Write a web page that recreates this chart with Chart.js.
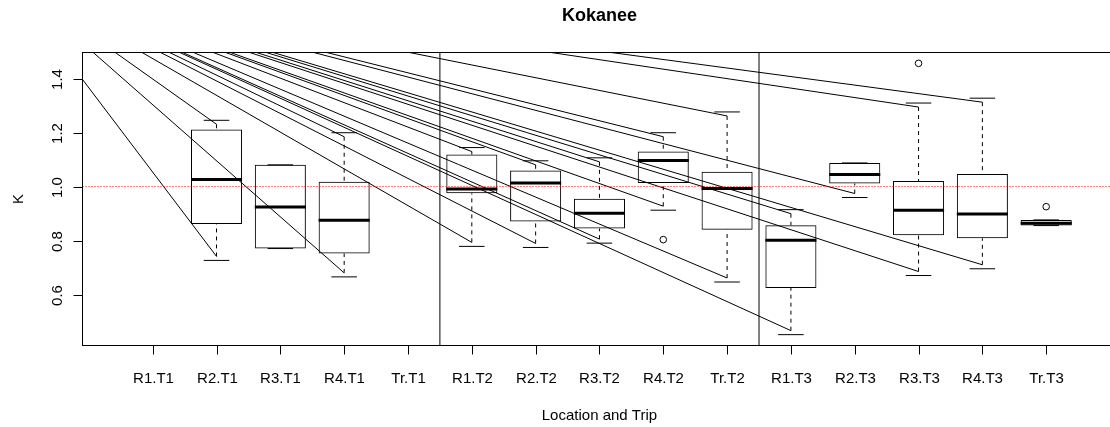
<!DOCTYPE html>
<html>
<head>
<meta charset="utf-8">
<title>Kokanee</title>
<script src="https://cdn.jsdelivr.net/npm/chart.js@4/dist/chart.umd.min.js"></script>
<style>
  html, body { margin: 0; padding: 0; background: #ffffff; overflow: hidden; }
  body { width: 1110px; height: 427px; }
  #wrap { width: 1117px; height: 427px; }
</style>
</head>
<body>
<div id="wrap"><canvas id="chart" width="1117" height="427"></canvas></div>
<script>
// Condition factor K of kokanee by location (R1-R4, Tr) and trip (T1-T3)
const categories = ['R1.T1', 'R2.T1', 'R3.T1', 'R4.T1', 'Tr.T1',
                    'R1.T2', 'R2.T2', 'R3.T2', 'R4.T2', 'Tr.T2',
                    'R1.T3', 'R2.T3', 'R3.T3', 'R4.T3', 'Tr.T3'];

// five-number summaries (null = no fish sampled)
const whiskerLow  = [null, 0.727, 0.771, 0.666, null, 0.779, 0.775, 0.791, 0.913, 0.647, 0.452, 0.960, 0.671, 0.696, 0.856];
const hingeLow    = [null, 0.862, 0.771, 0.753, null, 0.976, 0.871, 0.845, 1.014, 0.841, 0.625, 1.012, 0.820, 0.809, 0.856];
const medians     = [null, 1.027, 0.925, 0.876, null, 0.992, 1.014, 0.902, 1.097, 0.993, 0.802, 1.045, 0.913, 0.899, 0.865];
const hingeHigh   = [null, 1.212, 1.081, 1.018, null, 1.119, 1.060, 0.955, 1.130, 1.055, 0.857, 1.088, 1.021, 1.047, 0.877];
const whiskerHigh = [null, 1.246, 1.081, 1.200, null, 1.145, 1.096, 1.107, 1.200, 1.277, 0.915, 1.088, 1.310, 1.328, 0.877];

// outlying fish
const outlierCategory = [8, 12, 14];
const outlierValues   = [0.804, 1.457, 0.926];

// axis ticks
const yTickValues = [0.6, 0.8, 1.0, 1.2, 1.4];
const yTickLabels = ['0.6', '0.8', '1.0', '1.2', '1.4'];

// reference level K = 1 and trip dividers (between category positions)
const referenceLevel = 1.0;
const tripDividers = [4.5, 9.5];

// common anchor of the whisker leader lines (x in category units, y in K)
const rayOrigin = { x: -2.39, y: 1.80 };

const chartTitle = 'Kokanee';
const xTitle = 'Location and Trip';
const yTitle = 'K';

// axis limits: data range padded by 4% on each side
const nCat = categories.length;
const allValues = [...whiskerLow, ...whiskerHigh, ...outlierValues].filter(v => v != null);
const dataMin = Math.min(...allValues);
const dataMax = Math.max(...allValues);
const ySpan = dataMax - dataMin;
const yLimits = [dataMin - 0.04 * ySpan, dataMax + 0.04 * ySpan];
const xLimits = [-0.5 - 0.04 * nCat, nCat - 0.5 + 0.04 * nCat];

const boxData = [];
categories.forEach((c, i) => {
  if (hingeLow[i] != null) boxData.push({ x: i, y: [hingeLow[i], hingeHigh[i]] });
});
const outlierData = outlierCategory.map((ci, k) => ({ x: ci, y: outlierValues[k] }));

const FONT = "'Liberation Sans', Arial, Helvetica, sans-serif";
const RAY_GAP = 4;

const boxplotDecor = {
  id: 'boxplotDecor',
  afterDatasetsDraw(chart) {
    const ctx = chart.ctx;
    const area = chart.chartArea;
    const xs = chart.scales.x, ys = chart.scales.y;
    const bars = chart.getDatasetMeta(0).data;

    ctx.save();
    ctx.beginPath();
    ctx.rect(area.left, area.top, area.right - area.left, area.bottom - area.top);
    ctx.clip();

    // medians, whiskers, staples and leader lines
    const ox = xs.getPixelForValue(rayOrigin.x);
    const oy = ys.getPixelForValue(rayOrigin.y);
    boxData.forEach((d, k) => {
      const i = d.x;
      const bar = bars[k];
      const cx = bar.x;
      const w = bar.width;

      const ends = [
        { end: whiskerLow[i], hinge: hingeLow[i], lower: true },
        { end: whiskerHigh[i], hinge: hingeHigh[i], lower: false }
      ];
      ends.forEach(e => {
        const pe = ys.getPixelForValue(e.end);
        const ph = ys.getPixelForValue(e.hinge);
        ctx.strokeStyle = '#000';
        ctx.lineWidth = 1;
        if (e.end !== e.hinge) {
          const startY = e.lower ? pe - RAY_GAP : pe + RAY_GAP;
          // dashed whisker towards the hinge
          ctx.setLineDash([4, 4]);
          ctx.beginPath();
          ctx.moveTo(cx, startY);
          ctx.lineTo(cx, ph);
          ctx.stroke();
          ctx.setLineDash([]);
          // leader line from the common anchor
          ctx.beginPath();
          ctx.moveTo(ox, oy);
          ctx.lineTo(cx, startY);
          ctx.stroke();
        }
        // staple
        ctx.setLineDash([]);
        ctx.beginPath();
        ctx.moveTo(cx - w / 4, pe);
        ctx.lineTo(cx + w / 4, pe);
        ctx.stroke();
      });

      // median
      const pm = ys.getPixelForValue(medians[i]);
      ctx.lineWidth = 3;
      ctx.beginPath();
      ctx.moveTo(cx - w / 2, pm);
      ctx.lineTo(cx + w / 2, pm);
      ctx.stroke();
    });

    // trip dividers
    ctx.setLineDash([]);
    ctx.lineWidth = 1;
    ctx.strokeStyle = '#000';
    tripDividers.forEach(v => {
      const px = xs.getPixelForValue(v);
      ctx.beginPath();
      ctx.moveTo(px, area.top);
      ctx.lineTo(px, area.bottom);
      ctx.stroke();
    });

    // reference level, snapped to the pixel row for a crisp dotted line
    const pr = Math.round(ys.getPixelForValue(referenceLevel)) - 0.5;
    ctx.strokeStyle = '#ff0000';
    ctx.setLineDash([1, 2]);
    ctx.beginPath();
    ctx.moveTo(area.left, pr);
    ctx.lineTo(area.right, pr);
    ctx.stroke();
    ctx.setLineDash([]);
    ctx.restore();
  },
  afterDraw(chart) {
    const ctx = chart.ctx;
    const area = chart.chartArea;
    const xs = chart.scales.x, ys = chart.scales.y;
    ctx.save();
    ctx.strokeStyle = '#000';
    ctx.fillStyle = '#000';
    ctx.lineWidth = 1;
    ctx.setLineDash([]);

    // plot frame
    ctx.strokeRect(area.left, area.top, area.right - area.left, area.bottom - area.top);

    // x axis ticks and labels
    ctx.font = '15px ' + FONT;
    ctx.textAlign = 'center';
    ctx.textBaseline = 'alphabetic';
    categories.forEach((c, i) => {
      const px = Math.round(xs.getPixelForValue(i)) + 0.5;
      ctx.beginPath();
      ctx.moveTo(px, area.bottom);
      ctx.lineTo(px, area.bottom + 9);
      ctx.stroke();
      ctx.fillText(c, px, 382.5);
    });

    // y axis ticks and labels
    yTickValues.forEach((v, k) => {
      const py = Math.round(ys.getPixelForValue(v)) + 0.5;
      ctx.beginPath();
      ctx.moveTo(area.left - 9, py);
      ctx.lineTo(area.left, py);
      ctx.stroke();
      ctx.save();
      ctx.translate(61.5, py);
      ctx.rotate(-Math.PI / 2);
      ctx.fillText(yTickLabels[k], 0, 0);
      ctx.restore();
    });

    // titles
    const midX = (area.left + area.right) / 2;
    ctx.fillText(xTitle, midX, 420);
    ctx.save();
    ctx.translate(23.3, (area.top + area.bottom) / 2);
    ctx.rotate(-Math.PI / 2);
    ctx.fillText(yTitle, 0, 0);
    ctx.restore();
    ctx.font = 'bold 18px ' + FONT;
    ctx.fillText(chartTitle, midX, 20.7);
    ctx.restore();
  }
};

new Chart(document.getElementById('chart'), {
  type: 'bar',
  data: {
    datasets: [
      {
        type: 'bar',
        data: boxData,
        backgroundColor: 'rgba(0,0,0,0)',
        borderColor: '#000000',
        borderWidth: 1,
        borderSkipped: false,
        barPercentage: 0.8,
        categoryPercentage: 1.0
      },
      {
        type: 'scatter',
        data: outlierData,
        pointStyle: 'circle',
        pointRadius: 3.3,
        pointBorderWidth: 1,
        pointBackgroundColor: 'rgba(0,0,0,0)',
        pointBorderColor: '#000000',
        showLine: false
      }
    ]
  },
  options: {
    responsive: false,
    animation: false,
    devicePixelRatio: 1,
    layout: { autoPadding: false, padding: { left: 82.5, top: 52.5, right: 0.6, bottom: 81.5 } },
    plugins: { legend: { display: false }, tooltip: { enabled: false }, title: { display: false } },
    scales: {
      x: { type: 'linear', min: xLimits[0], max: xLimits[1], offset: false, display: false },
      y: { type: 'linear', min: yLimits[0], max: yLimits[1], display: false }
    }
  },
  plugins: [boxplotDecor]
});
</script>
</body>
</html>
